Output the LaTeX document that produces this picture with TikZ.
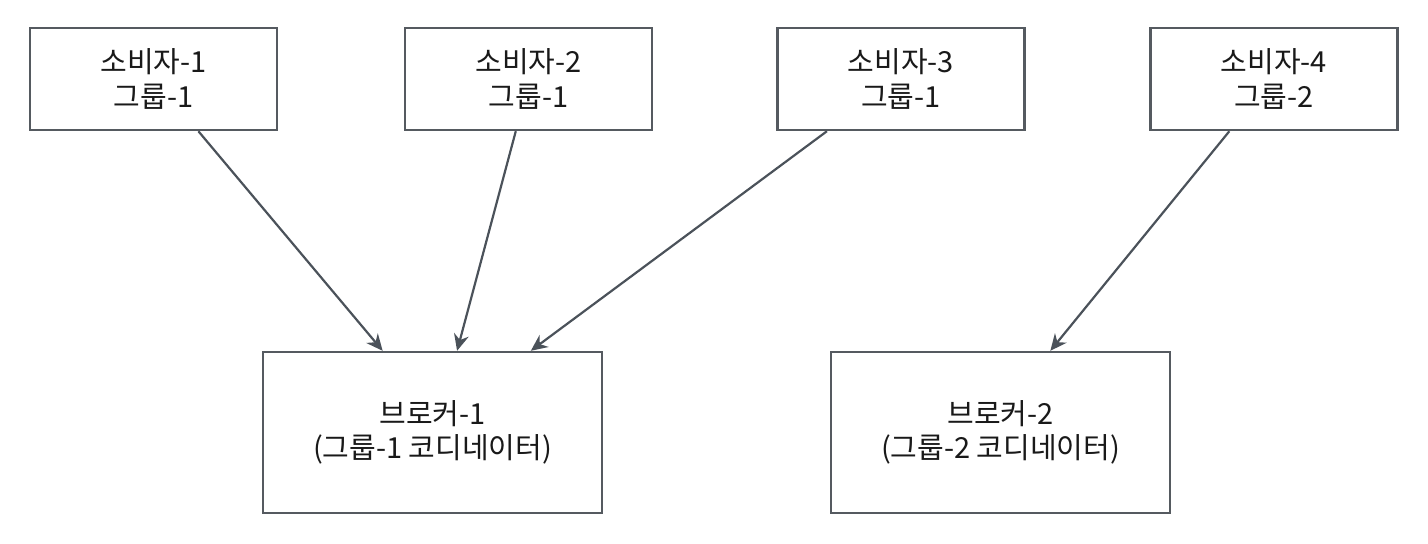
\documentclass[tikz,border=0pt]{standalone}
\usepackage{fontspec}
\setmainfont{Noto Sans CJK KR}
\usepackage{xcolor}
\usetikzlibrary{arrows.meta, positioning, calc}

\definecolor{edgegray}{HTML}{4B525A}
\definecolor{boxgray}{HTML}{555A60}

\begin{document}
\begin{tikzpicture}[
    x=0.02cm, y=-0.02cm,
    box/.style={draw=boxgray, line width=1.4pt, fill=white, align=center, inner sep=0pt,
        font=\fontsize{16.5}{19.4}\selectfont, text=black!90, minimum width=#1},
    consumer/.style={box=4.94cm, minimum height=2.04cm},
    broker/.style={box=6.78cm, minimum height=3.22cm},
    arr/.style={-{Stealth[length=3.3mm, width=3mm]}, line width=1.25pt, edgegray}
]
\useasboundingbox (0,0) rectangle (1428,544);

% Consumers (top row)
\node[consumer] (c1) at (153.5, 79) {소비자-1\\그룹-1};
\node[consumer] (c2) at (528.5, 79) {소비자-2\\그룹-1};
\node[consumer] (c3) at (901, 79) {소비자-3\\그룹-1};
\node[consumer] (c4) at (1274, 79) {소비자-4\\그룹-2};

% Brokers (bottom row)
\node[broker] (b1) at (432.5, 432.5) {브로커-1\\(그룹-1 코디네이터)};
\node[broker] (b2) at (1000.5, 432.5) {브로커-2\\(그룹-2 코디네이터)};

% Join requests to coordinators
\foreach \src/\a/\dst/\b in {c1/0.68/b1/0.354, c2/0.449/b1/0.572, c3/0.203/b1/0.788, c4/0.321/b2/0.646} {
    \draw[arr] ($(\src.south west)!\a!(\src.south east)$) -- ($(\dst.north west)!\b!(\dst.north east)$);
}

\end{tikzpicture}
\end{document}
